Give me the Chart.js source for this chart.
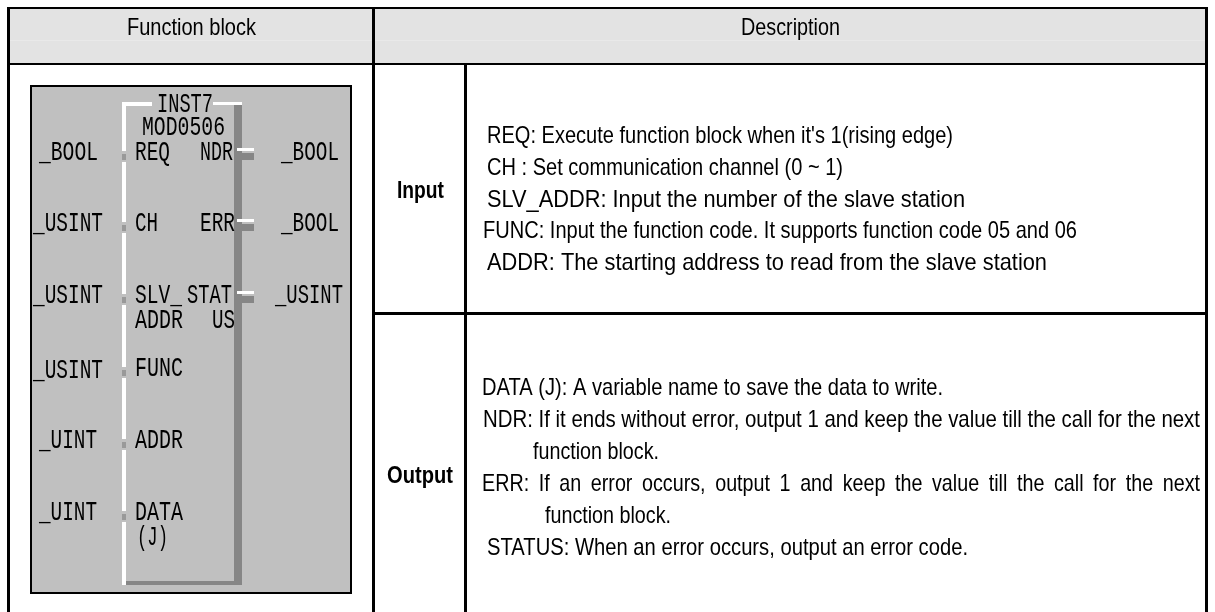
<!DOCTYPE html>
<html>
<head>
<meta charset="utf-8">
<title>Function block</title>
<style>
html, body { margin: 0; padding: 0; background: #fff; }
canvas { display: block; filter: blur(0.4px); }
</style>
<script src="https://cdn.jsdelivr.net/npm/chart.js@4/dist/chart.umd.min.js"></script>
</head>
<body>
<canvas id="tableChart" width="1215" height="612"></canvas>
<script>
// table text
const headers = ['Function block', 'Description'];
const sections = ['Input', 'Output'];
const inputLines = [
    "REQ: Execute function block when it's 1(rising edge)",
    'CH : Set communication channel (0 ~ 1)',
    'SLV_ADDR: Input the number of the slave station',
    'FUNC: Input the function code. It supports function code 05 and 06',
    'ADDR: The starting address to read from the slave station'
];
const outputLines = [
    'DATA (J): A variable name to save the data to write.',
    'NDR: If it ends without error, output 1 and keep the value till the call for the next',
    'function block.',
    'ERR: If an error occurs, output 1 and keep the value till the call for the next',
    'function block.',
    'STATUS: When an error occurs, output an error code.'
];

// function block text
const blockName = ['INST7', 'MOD0506'];
const leftTypes = ['_BOOL', '_USINT', '_USINT', '_USINT', '_UINT', '_UINT'];
const rightTypes = ['_BOOL', '_BOOL', '_USINT'];
const leftPins = ['REQ', 'CH', 'SLV_', 'ADDR', 'FUNC', 'ADDR', 'DATA', '(J)'];
const rightPins = ['NDR', 'ERR', 'STAT', 'US'];

// layout, in page pixels: [start x, end x, baseline y]
const headerPos = [[127, 256, 35], [741, 840, 35]];
const sectionPos = [[397, 444, 198], [387, 453, 483]];
const inputPos = [[487, 953, 143], [487, 843, 175], [487, 965, 207], [483, 1077, 238], [487, 1047, 270]];
const outputPos = [[482, 943, 395], [483, 1200, 427], [533, 659, 459], [482, 1200, 491], [545, 671, 523], [487, 968, 555]];
const outputWordGap = [0, 0, 0, 5, 0, 0];
const blockNamePos = [[157, 213, 112], [142, 225, 135]];
const leftTypePos = [[39, 98, 160], [33, 103, 231], [33, 103, 303], [33, 103, 378], [39, 97, 448], [39, 97, 520]];
const rightTypePos = [[281, 339, 160], [281, 339, 231], [275, 343, 303]];
const leftPinPos = [[135, 170, 160], [135, 158, 231], [135, 182, 303], [135, 183, 328], [135, 183, 376], [135, 183, 448], [135, 183, 520], [137, 168, 545]];
const rightPinPos = [[200, 233, 160], [200, 235, 231], [187, 232, 303], [212, 235, 328]];
const leftPinRows = [157, 228, 300, 373, 445, 517];
const rightPinRows = [157, 228, 300];

// a filled box is one horizontal stroke as thick as the box
function box(x1, y1, x2, y2, color) {
    return {
        data: [{ x: x1, y: (y1 + y2) / 2 }, { x: x2, y: (y1 + y2) / 2 }],
        showLine: true,
        borderColor: color,
        borderWidth: y2 - y1,
        pointRadius: 0,
        clip: false
    };
}

const datasets = [
    // header shading
    box(10, 9, 372, 63, '#e3e3e3'),
    box(375, 9, 1205, 63, '#e3e3e3'),
    box(10, 40, 372, 41, '#e9e9e9'),
    box(375, 40, 1205, 41, '#e9e9e9'),
    // table rules
    box(7, 7, 1208, 9, '#000'),
    box(7, 63, 1208, 65, '#000'),
    box(372, 312, 1208, 315, '#000'),
    box(7, 7, 10, 612, '#000'),
    box(372, 7, 375, 612, '#000'),
    box(464, 65, 467, 612, '#000'),
    box(1205, 7, 1208, 612, '#000'),
    // block panel
    box(30, 85, 352, 594, '#000'),
    box(32, 87, 350, 592, '#c0c0c0'),
    // block outline
    box(234, 105, 242, 585, '#868686'),
    box(126, 581, 242, 585, '#868686'),
    box(122, 102, 152, 106, '#fff'),
    box(213, 102, 242, 105, '#fff')
];

// white left edge, broken at each input pin
let edgeTop = 102;
leftPinRows.forEach(function (row) {
    datasets.push(box(122, edgeTop, 126, row - 6, '#fff'));
    datasets.push(box(122, row - 3, 126, row + 3, '#999'));
    edgeTop = row + 5;
});
datasets.push(box(122, edgeTop, 126, 585, '#fff'));

// output pin stubs
rightPinRows.forEach(function (row) {
    datasets.push(box(237, row - 9, 254, row - 6, '#fff'));
    datasets.push(box(234, row - 4, 254, row + 3, '#868686'));
});

// Chart.js paints the first dataset last, so flip to keep this paint order
datasets.reverse();

const BODY_FONT = '24px "Liberation Sans"';
const BOLD_FONT = 'bold 24px "Liberation Sans"';
const BLOCK_FONT = '27px "Liberation Mono"';

const textRows = [];
function addRows(labels, positions, font, gaps) {
    labels.forEach(function (label, i) {
        textRows.push({ label: label, pos: positions[i], font: font, gap: gaps ? gaps[i] : 0 });
    });
}
addRows(headers, headerPos, BODY_FONT);
addRows(sections, sectionPos, BOLD_FONT);
addRows(inputLines, inputPos, BODY_FONT);
addRows(outputLines, outputPos, BODY_FONT, outputWordGap);
addRows(blockName, blockNamePos, BLOCK_FONT);
addRows(leftTypes, leftTypePos, BLOCK_FONT);
addRows(rightTypes, rightTypePos, BLOCK_FONT);
addRows(leftPins, leftPinPos, BLOCK_FONT);
addRows(rightPins, rightPinPos, BLOCK_FONT);

// Chart.js has no free text mark, so the labels go through the scales here
const tableText = {
    id: 'tableText',
    afterDatasetsDraw(chart) {
        const ctx = chart.ctx;
        const xScale = chart.scales.x;
        const yScale = chart.scales.y;
        ctx.save();
        ctx.fillStyle = '#000';
        ctx.textBaseline = 'alphabetic';
        textRows.forEach(function (row) {
            const x1 = xScale.getPixelForValue(row.pos[0]);
            const x2 = xScale.getPixelForValue(row.pos[1]);
            const y = yScale.getPixelForValue(row.pos[2]);
            ctx.font = row.font;
            ctx.wordSpacing = row.gap + 'px';
            ctx.fillText(row.label, x1, y, x2 - x1);
        });
        ctx.restore();
    }
};

new Chart(document.getElementById('tableChart'), {
    type: 'scatter',
    data: { datasets: datasets },
    plugins: [tableText],
    options: {
        responsive: false,
        animation: false,
        layout: { padding: 0 },
        plugins: { legend: { display: false }, tooltip: { enabled: false } },
        scales: {
            x: { type: 'linear', min: 0, max: 1215, display: false },
            y: { type: 'linear', min: 0, max: 612, reverse: true, display: false }
        }
    }
});
</script>
</body>
</html>
